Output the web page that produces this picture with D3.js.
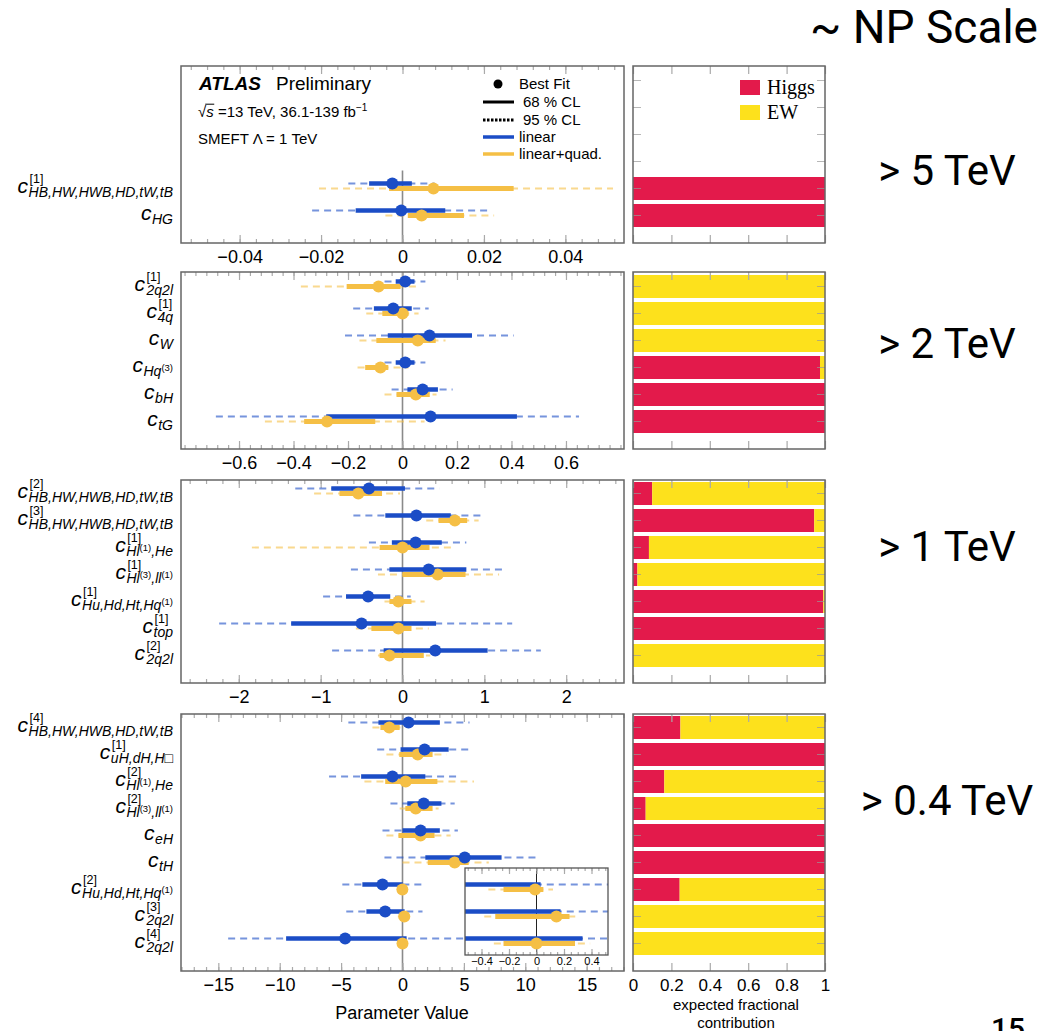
<!DOCTYPE html>
<html><head><meta charset="utf-8">
<script src="https://cdn.jsdelivr.net/npm/d3@7"></script>
<style>body{margin:0;background:#fff} svg{display:block}</style>
</head><body>
<svg id="c" width="1043" height="1031"></svg>
<script>
// ---------------- DATA ----------------
// each row: [best, lo68, hi68, lo95, hi95]
const p1Sup = ["[1]", ""];
const p1Sub = ["HB,HW,HWB,HD,tW,tB", "HG"];
const p1Lin = [[-0.0025,-0.0082,0.0023,-0.0133,0.0079],[-0.0003,-0.0115,0.0105,-0.0222,0.0217]];
const p1Quad = [[0.0076,-0.0033,0.0273,-0.0205,0.0517],[0.0047,0.0013,0.0151,-0.0042,0.0225]];
const p1Higgs = [1, 1];
const p1Ticks = [-0.04,-0.02,0,0.02,0.04];
const p1TickLabels = ["\u22120.04","\u22120.02","0","0.02","0.04"];

const p2Sup = ["[1]","[1]","","","",""];
const p2Sub = ["2q2l","4q","W","Hq{(3)}","bH","tG"];
const p2Lin = [[0.010,-0.025,0.044,-0.066,0.084],[-0.034,-0.105,0.034,-0.181,0.096],[0.099,-0.054,0.255,-0.211,0.408],
  [0.010,-0.025,0.044,-0.066,0.084],[0.074,0.018,0.130,-0.040,0.184],[0.103,-0.280,0.420,-0.685,0.648]];
const p2Quad = [[-0.088,-0.205,-0.007,-0.373,0.059],[0.0,-0.074,0.022,-0.133,0.059],[0.056,-0.096,0.122,-0.158,0.158],
  [-0.081,-0.137,-0.052,-0.165,0.022],[0.049,-0.022,0.100,-0.066,0.125],[-0.277,-0.361,-0.100,-0.505,0.081]];
const p2Higgs = [0,0,0,0.974,1,1];
const p2Ticks = [-0.6,-0.4,-0.2,0,0.2,0.4,0.6];
const p2TickLabels = ["\u22120.6","\u22120.4","\u22120.2","0","0.2","0.4","0.6"];

const p3Sup = ["[2]","[3]","[1]","[1]","[1]","[1]","[2]"];
const p3Sub = ["HB,HW,HWB,HD,tW,tB","HB,HW,HWB,HD,tW,tB","Hl{(1)},He","Hl{(3)},ll{(1)}","Hu,Hd,Ht,Hq{(1)}","top","2q2l"];
const p3Lin = [[-0.41,-0.87,0.03,-1.31,0.45],[0.17,-0.21,0.59,-0.60,0.97],[0.16,-0.13,0.48,-0.41,0.78],
  [0.32,-0.16,0.78,-0.63,1.26],[-0.42,-0.69,-0.15,-0.97,0.10],[-0.50,-1.36,0.41,-2.24,1.34],[0.40,-0.23,1.04,-0.86,1.69]];
const p3Quad = [[-0.54,-0.77,-0.25,-1.08,-0.03],[0.64,0.44,0.79,0.29,0.93],[0.0,-0.28,0.33,-1.84,0.62],
  [0.43,0.0,0.77,-0.30,1.18],[-0.05,-0.16,0.11,-0.22,0.27],[-0.05,-0.38,0.11,-0.57,0.32],[-0.16,-0.28,0.26,-0.30,0.34]];
const p3Higgs = [0.10,0.944,0.083,0.023,0.991,1,0];
const p3Ticks = [-2,-1,0,1,2];
const p3TickLabels = ["\u22122","\u22121","0","1","2"];

const p4Sup = ["[4]","[1]","[2]","[2]","","","[2]","[3]","[4]"];
const p4Sub = ["HB,HW,HWB,HD,tW,tB","uH,dH,H\u25A1","Hl{(1)},He","Hl{(3)},ll{(1)}","eH","tH","Hu,Hd,Ht,Hq{(1)}","2q2l","2q2l"];
const p4Lin = [[0.49,-1.96,3.04,-4.41,5.46],[1.80,-0.16,3.76,-2.06,5.62],[-0.82,-3.37,1.86,-5.98,4.51],
  [1.73,0.39,3.17,-0.98,4.25],[1.47,0.0,3.04,-1.63,4.51],[5.07,1.86,8.07,-1.47,10.88],
  [-1.63,-3.27,0.03,-4.90,1.70],[-1.41,-2.94,0.175,-4.58,1.63],[-4.67,-9.48,0.335,-14.2,5.6]];
const p4Quad = [[-1.08,-1.80,-0.23,-2.45,-0.16],[1.24,-0.26,2.45,-1.31,3.59],[0.26,-1.41,2.84,-3.10,5.82],
  [1.08,0.23,2.45,-0.23,2.94],[1.47,-0.33,2.61,-1.31,3.92],[4.25,2.06,5.39,0.0,7.03],
  [-0.01,-0.24,0.05,-0.35,0.12],[0.145,-0.30,0.24,-0.38,0.30],[0.0,-0.24,0.28,-0.31,0.39]];
const p4Higgs = [0.247,1,0.163,0.066,1,1,0.243,0,0];
const p4Ticks = [-15,-10,-5,0,5,10,15];
const p4TickLabels = ["\u221215","\u221210","\u22125","0","5","10","15"];

const insetRows = [6,7,8];
const insetTicks = [-0.4,-0.2,0,0.2,0.4];
const insetTickLabels = ["\u22120.4","\u22120.2","0","0.2","0.4"];

const fracTicks = [0,0.2,0.4,0.6,0.8,1];
const fracTickLabels = ["0","0.2","0.4","0.6","0.8","1"];
const scaleTexts = ["> 5 TeV","> 2 TeV","> 1 TeV","> 0.4 TeV"];

// ---------------- DRAW ----------------
const svg = d3.select('#c');
const FONT = "'Liberation Sans', Arial, Helvetica, sans-serif";
const BLUE = '#1b4dc6', YEL = '#f5bf45', RED = '#e31a4b', EWY = '#fde11c';
const XL = 181, XR = 624, BX0 = 633, BX1 = 825;
const defs = svg.append('defs');

const panels = [
 {top:66,bottom:243,dom:0.0544,minor:0.004,sup:p1Sup,sub:p1Sub,lin:p1Lin,quad:p1Quad,higgs:p1Higgs,ticks:p1Ticks,labels:p1TickLabels,txtY:185},
 {top:272,bottom:449,dom:0.813,minor:0.04,sup:p2Sup,sub:p2Sub,lin:p2Lin,quad:p2Quad,higgs:p2Higgs,ticks:p2Ticks,labels:p2TickLabels,txtY:358},
 {top:480,bottom:683,dom:2.706,minor:0.2,sup:p3Sup,sub:p3Sub,lin:p3Lin,quad:p3Quad,higgs:p3Higgs,ticks:p3Ticks,labels:p3TickLabels,txtY:561},
 {top:714,bottom:971,dom:18.04,minor:1,sup:p4Sup,sub:p4Sub,lin:p4Lin,quad:p4Quad,higgs:p4Higgs,ticks:p4Ticks,labels:p4TickLabels,txtY:815}
];

function styleAxis(sel, color, fs){
  sel.select('.domain').remove();
  sel.selectAll('line').attr('stroke', color).attr('stroke-width',1.2);
  sel.attr('font-family', FONT).attr('font-size', fs);
  sel.selectAll('text').attr('fill','#000');
}

function drawLines(g, x, yOf, data, color, dy){
  g.append('g').selectAll('line').data(data).join('line')
    .attr('x1',d=>x(d[3])).attr('x2',d=>x(d[4]))
    .attr('y1',(d,i)=>yOf(i)+dy).attr('y2',(d,i)=>yOf(i)+dy)
    .attr('stroke',color).attr('stroke-opacity',0.6).attr('stroke-width',1.8).attr('stroke-dasharray','7,5');
}
function drawSolid(g, x, yOf, data, color, dy, w){
  g.append('g').selectAll('line').data(data).join('line')
    .attr('x1',d=>x(d[1])).attr('x2',d=>x(d[2]))
    .attr('y1',(d,i)=>yOf(i)+dy).attr('y2',(d,i)=>yOf(i)+dy)
    .attr('stroke',color).attr('stroke-width',w);
}
function drawPts(g, x, yOf, data, color, dy){
  g.append('g').selectAll('circle').data(data).join('circle')
    .attr('cx',d=>x(d[0])).attr('cy',(d,i)=>yOf(i)+dy).attr('r',6).attr('fill',color);
}

function drawLabel(g, y, sup, sub){
  const xr = 173;
  const t = g.append('text').attr('x',xr).attr('y',y+8.5).attr('text-anchor','end')
    .attr('font-family',FONT).attr('font-size',14).attr('font-style','italic');
  const parts = sub.split(/\{([^}]*)\}/);
  let raised = false;
  parts.forEach((s,k)=>{
    if(s==='') { return; }
    if(k%2===1){
      t.append('tspan').attr('dy',-5).attr('font-size',9.5).attr('font-style','normal').text(s);
      raised = true;
    } else {
      const ts = t.append('tspan').text(s);
      if(raised){ ts.attr('dy',5); raised=false; }
    }
  });
  const bb = t.node().getBBox();
  const x0 = bb.x;
  g.append('text').attr('x',x0-0.5).attr('y',y+4.5).attr('text-anchor','end')
    .attr('font-family',FONT).attr('font-size',21).attr('font-style','italic').text('c');
  if(sup){
    g.append('text').attr('x',x0+1).attr('y',y-5.5)
      .attr('font-family',FONT).attr('font-size',12.5).text(sup);
  }
}

const x4holder = {};
panels.forEach((p,pi)=>{
  const n = p.sub.length;
  const x = d3.scaleLinear().domain([-p.dom,p.dom]).range([XL,XR]);
  const yr = d3.scaleLinear().domain([0,1]).range([p.bottom-27.5, p.bottom-54.5]);
  const yOf = i => yr(n-1-i);
  if(pi===3){ x4holder.yOf = yOf; }
  const g = svg.append('g');
  defs.append('clipPath').attr('id','clip'+pi).append('rect')
    .attr('x',XL).attr('y',p.top).attr('width',XR-XL).attr('height',p.bottom-p.top);

  // zero line
  g.append('line').attr('x1',x(0)).attr('x2',x(0))
    .attr('y1',Math.max(p.top, yOf(0)-18)).attr('y2',p.bottom)
    .attr('stroke','#8a8a8a').attr('stroke-width',1.6);

  // ticks
  const minors = d3.range(Math.ceil(-p.dom/p.minor+1e-9), Math.floor(p.dom/p.minor-1e-9)+1).map(k=>+(k*p.minor).toFixed(6));
  g.append('g').attr('transform',`translate(0,${p.bottom})`)
    .call(d3.axisBottom(x).tickValues(minors).tickFormat('').tickSize(-4)).call(s=>styleAxis(s,'#aaa',18));
  g.append('g').attr('transform',`translate(0,${p.top})`)
    .call(d3.axisTop(x).tickValues(minors).tickFormat('').tickSize(-4)).call(s=>styleAxis(s,'#aaa',18));
  g.append('g').attr('transform',`translate(0,${p.bottom})`)
    .call(d3.axisBottom(x).tickValues(p.ticks).tickFormat((d,i)=>p.labels[i]).tickSize(-8).tickPadding(7))
    .call(s=>styleAxis(s,'#aaa',18));
  g.append('g').attr('transform',`translate(0,${p.top})`)
    .call(d3.axisTop(x).tickValues(p.ticks).tickFormat('').tickSize(-8)).call(s=>styleAxis(s,'#aaa',18));

  // data
  const dg = g.append('g').attr('clip-path',`url(#clip${pi})`);
  drawLines(dg, x, yOf, p.quad, YEL, 0);
  drawLines(dg, x, yOf, p.lin, BLUE, -5);
  drawSolid(dg, x, yOf, p.quad, YEL, 0, 5);
  drawSolid(dg, x, yOf, p.lin, BLUE, -5, 4.5);
  drawPts(dg, x, yOf, p.quad, YEL, 0);
  drawPts(dg, x, yOf, p.lin, BLUE, -5);

  // frame
  g.append('rect').attr('x',XL).attr('y',p.top).attr('width',XR-XL).attr('height',p.bottom-p.top)
    .attr('fill','none').attr('stroke','#666').attr('stroke-width',1.5);

  // labels
  const lg = g.append('g');
  p.sub.forEach((s,i)=>drawLabel(lg, yOf(i), p.sup[i], s));

  // ---- right fractional bars ----
  const bx = d3.scaleLinear().domain([0,1]).range([BX0,BX1]);
  const rg = svg.append('g');
  rg.append('g').selectAll('rect').data(p.higgs).join('rect')
    .attr('x',bx(0)).attr('width',d=>bx(d)-bx(0))
    .attr('y',(d,i)=>yOf(i)-11.5).attr('height',23).attr('fill',RED);
  rg.append('g').selectAll('rect').data(p.higgs).join('rect')
    .attr('x',d=>bx(d)).attr('width',d=>bx(1)-bx(d))
    .attr('y',(d,i)=>yOf(i)-11.5).attr('height',23).attr('fill',EWY);
  // y ticks at row centres
  const ks = d3.range(0,12).filter(k=>yr(k) > p.top+4);
  rg.append('g').selectAll('line').data(ks).join('line')
    .attr('x1',BX0).attr('x2',BX0+8).attr('y1',k=>yr(k)).attr('y2',k=>yr(k))
    .attr('stroke','#999').attr('stroke-opacity',0.7).attr('stroke-width',1);
  rg.append('g').selectAll('line').data(ks).join('line')
    .attr('x1',BX1-8).attr('x2',BX1).attr('y1',k=>yr(k)).attr('y2',k=>yr(k))
    .attr('stroke','#999').attr('stroke-opacity',0.7).attr('stroke-width',1);
  rg.append('g').attr('transform',`translate(0,${p.bottom})`)
    .call(d3.axisBottom(bx).tickValues(fracTicks).tickFormat((d,i)=> pi===3 ? fracTickLabels[i] : '').tickSize(-8).tickPadding(8))
    .call(s=>styleAxis(s,'#aaa',17));
  rg.append('g').attr('transform',`translate(0,${p.top})`)
    .call(d3.axisTop(bx).tickValues(fracTicks).tickFormat('').tickSize(-8))
    .call(s=>styleAxis(s,'#aaa',17));
  rg.append('rect').attr('x',BX0).attr('y',p.top).attr('width',BX1-BX0).attr('height',p.bottom-p.top)
    .attr('fill','none').attr('stroke','#666').attr('stroke-width',1.5);

  // NP scale text
  svg.append('text').attr('x',947).attr('y',p.txtY).attr('text-anchor','middle')
    .attr('font-family','Roboto, sans-serif').attr('font-size',42).text(scaleTexts[pi]);
});

// ---------------- INSET ----------------
{
  const yOf = x4holder.yOf;
  const IX0 = 465, IX1 = 608, IY0 = 868, IY1 = 955;
  const ix = d3.scaleLinear().domain([-0.52,0.52]).range([IX0,IX1]);
  const g = svg.append('g');
  g.append('rect').attr('x',IX0).attr('y',IY0).attr('width',IX1-IX0).attr('height',IY1-IY0).attr('fill','#fff');
  defs.append('clipPath').attr('id','clipInset').append('rect')
    .attr('x',IX0).attr('y',IY0).attr('width',IX1-IX0).attr('height',IY1-IY0);
  g.append('line').attr('x1',ix(0)).attr('x2',ix(0)).attr('y1',IY0).attr('y2',IY1).attr('stroke','#222').attr('stroke-width',1);
  const lin = insetRows.map(i=>p4Lin[i]);
  const quad = insetRows.map(i=>p4Quad[i]);
  const yI = k => yOf(insetRows[k]);
  const dg = g.append('g').attr('clip-path','url(#clipInset)');
  drawLines(dg, ix, yI, quad, YEL, 0);
  drawLines(dg, ix, yI, lin, BLUE, -5);
  drawSolid(dg, ix, yI, quad, YEL, 0, 5);
  drawSolid(dg, ix, yI, lin, BLUE, -5, 4.5);
  drawPts(dg, ix, yI, quad, YEL, 0);
  drawPts(dg, ix, yI, lin, BLUE, -5);
  const minors = d3.range(-10,11).map(k=>k*0.05);
  g.append('g').attr('transform',`translate(0,${IY1})`)
    .call(d3.axisBottom(ix).tickValues(minors).tickFormat('').tickSize(-3)).call(s=>styleAxis(s,'#aaa',11));
  g.append('g').attr('transform',`translate(0,${IY0})`)
    .call(d3.axisTop(ix).tickValues(minors).tickFormat('').tickSize(-3)).call(s=>styleAxis(s,'#aaa',11));
  g.append('g').attr('transform',`translate(0,${IY1})`)
    .call(d3.axisBottom(ix).tickValues(insetTicks).tickFormat((d,i)=>insetTickLabels[i]).tickSize(-6).tickPadding(2))
    .call(s=>styleAxis(s,'#aaa',11));
  g.append('g').attr('transform',`translate(0,${IY0})`)
    .call(d3.axisTop(ix).tickValues(insetTicks).tickFormat('').tickSize(-6)).call(s=>styleAxis(s,'#aaa',11));
  g.append('rect').attr('x',IX0).attr('y',IY0).attr('width',IX1-IX0).attr('height',IY1-IY0)
    .attr('fill','none').attr('stroke','#555').attr('stroke-width',1.3);
}

// ---------------- LEGEND / TEXT ----------------
const lg = svg.append('g').attr('font-family',FONT);
lg.append('text').attr('x',199).attr('y',90).attr('font-size',19).attr('font-weight','bold').attr('font-style','italic').text('ATLAS');
lg.append('text').attr('x',276).attr('y',90).attr('font-size',19).text('Preliminary');
{
  const t = lg.append('text').attr('x',198).attr('y',117).attr('font-size',15);
  t.append('tspan').text('\u221A');
  t.append('tspan').attr('font-style','italic').text('s');
  t.append('tspan').text(' =13 TeV, 36.1-139 fb');
  t.append('tspan').attr('dy',-6).attr('font-size',10).text('\u22121');
  const e = t.node().getExtentOfChar(1);
  const e0 = t.node().getExtentOfChar(0);
  lg.append('line').attr('x1',e0.x+e0.width-1).attr('x2',e.x+e.width+0.5).attr('y1',e0.y+1.2).attr('y2',e0.y+1.2)
    .attr('stroke','#000').attr('stroke-width',1);
}
lg.append('text').attr('x',198).attr('y',144).attr('font-size',15).text('SMEFT \u039B = 1 TeV');

lg.append('circle').attr('cx',498).attr('cy',84).attr('r',4.5).attr('fill','#000');
lg.append('text').attr('x',519).attr('y',89).attr('font-size',15).text('Best Fit');
lg.append('line').attr('x1',483).attr('x2',514).attr('y1',102).attr('y2',102).attr('stroke','#000').attr('stroke-width',3);
lg.append('text').attr('x',523).attr('y',107).attr('font-size',15).text('68 % CL');
lg.append('line').attr('x1',483).attr('x2',514).attr('y1',120).attr('y2',120).attr('stroke','#000').attr('stroke-width',3).attr('stroke-dasharray','2.5,1.5');
lg.append('text').attr('x',523).attr('y',125).attr('font-size',15).text('95 % CL');
lg.append('line').attr('x1',483).attr('x2',514).attr('y1',137).attr('y2',137).attr('stroke',BLUE).attr('stroke-width',3.5);
lg.append('text').attr('x',519).attr('y',142).attr('font-size',15).text('linear');
lg.append('line').attr('x1',483).attr('x2',514).attr('y1',154).attr('y2',154).attr('stroke',YEL).attr('stroke-width',3.5);
lg.append('text').attr('x',519).attr('y',159).attr('font-size',15).text('linear+quad.');

// right legend
svg.append('rect').attr('x',740).attr('y',80).attr('width',20).attr('height',15).attr('fill',RED);
svg.append('rect').attr('x',740).attr('y',105).attr('width',20).attr('height',15).attr('fill',EWY);
svg.append('text').attr('x',767).attr('y',94).attr('font-family',"'Liberation Serif', 'Times New Roman', serif").attr('font-size',20).text('Higgs');
svg.append('text').attr('x',767).attr('y',119).attr('font-family',"'Liberation Serif', 'Times New Roman', serif").attr('font-size',20).text('EW');

// axis titles
svg.append('text').attr('x',402).attr('y',1019).attr('text-anchor','middle').attr('font-family',FONT).attr('font-size',18).text('Parameter Value');
svg.append('text').attr('x',736).attr('y',1010).attr('text-anchor','middle').attr('font-family',FONT).attr('font-size',15).text('expected fractional');
svg.append('text').attr('x',736).attr('y',1028).attr('text-anchor','middle').attr('font-family',FONT).attr('font-size',15).text('contribution');

// slide texts
svg.append('text').attr('x',1038).attr('y',43).attr('text-anchor','end').attr('font-family','Roboto, sans-serif').attr('font-size',46).text('~ NP Scale');
svg.append('text').attr('x',1008).attr('y',1039).attr('text-anchor','middle').attr('font-family','Roboto, sans-serif').attr('font-weight',500).attr('font-size',30).text('15');
</script>
</body></html>
